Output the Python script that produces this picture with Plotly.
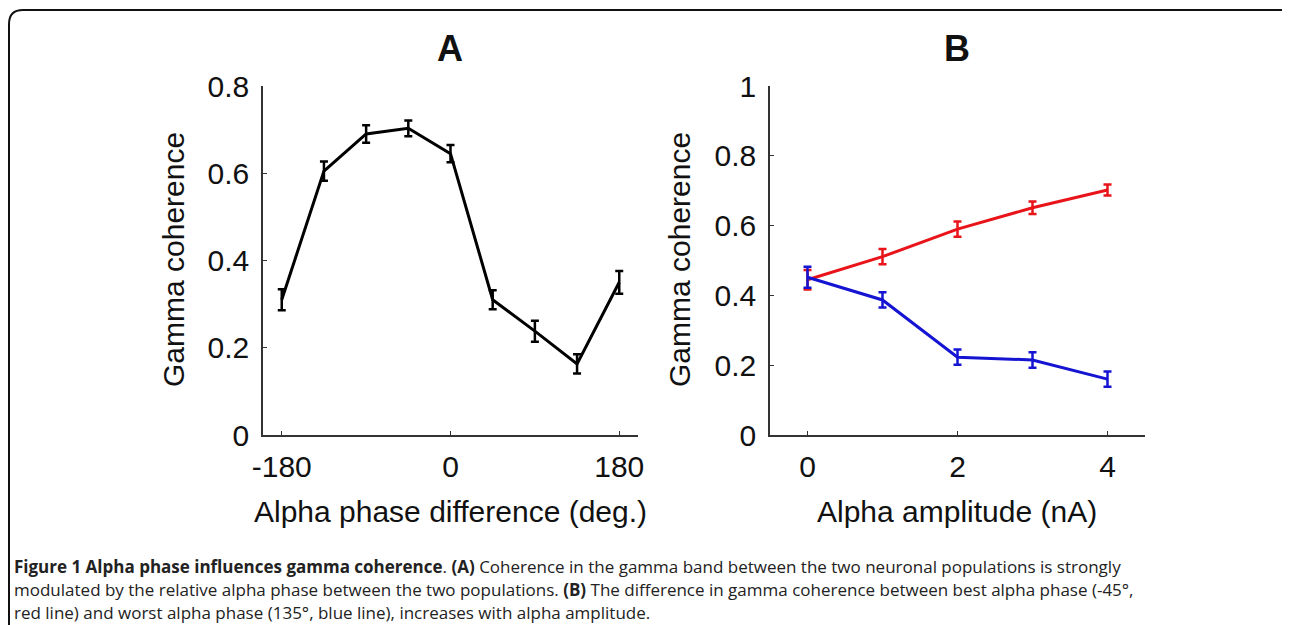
import plotly.graph_objects as go

# ---------------- data ----------------
phase_deg = [-180, -135, -90, -45, 0, 45, 90, 135, 180]
coh_phase = [0.31, 0.605, 0.69, 0.703, 0.645, 0.31, 0.238, 0.163, 0.35]
coh_phase_err = [0.024, 0.022, 0.02, 0.018, 0.02, 0.022, 0.024, 0.022, 0.026]

amp_nA = [0, 1, 2, 3, 4]
coh_best = [0.445, 0.511, 0.59, 0.651, 0.702]
coh_best_err = [0.028, 0.022, 0.022, 0.018, 0.016]
coh_worst = [0.452, 0.387, 0.223, 0.215, 0.16]
coh_worst_err = [0.03, 0.022, 0.022, 0.022, 0.022]

xticks_A = [-180, 0, 180]
xlabels_A = ["-180", "0", "180"]
yticks_A = [0, 0.2, 0.4, 0.6, 0.8]
ylabels_A = ["0", "0.2", "0.4", "0.6", "0.8"]
xticks_B = [0, 2, 4]
xlabels_B = ["0", "2", "4"]
yticks_B = [0, 0.2, 0.4, 0.6, 0.8, 1]
ylabels_B = ["0", "0.2", "0.4", "0.6", "0.8", "1"]

# the page body has an 8px margin: size the figure to fit the window
OFF = 8
W, H = 1290 - OFF, 625 - OFF
FONT = "Liberation Sans, Arial, sans-serif"
CAP_FONT = "Open Sans, Noto Sans, sans-serif"
TXT = "#111111"


def px_x(p):
    return (p - OFF) / W


def px_y(p):
    return 1 - (p - OFF) / H


fig = go.Figure()

fig.add_trace(go.Scatter(
    x=phase_deg, y=coh_phase, mode="lines",
    line=dict(color="black", width=3),
    error_y=dict(type="data", array=coh_phase_err, color="black", thickness=2.5, width=4),
    xaxis="x", yaxis="y", showlegend=False))

fig.add_trace(go.Scatter(
    x=amp_nA, y=coh_best, mode="lines",
    line=dict(color="#e8141a", width=3),
    error_y=dict(type="data", array=coh_best_err, color="#e8141a", thickness=2.5, width=4),
    xaxis="x2", yaxis="y2", showlegend=False))

fig.add_trace(go.Scatter(
    x=amp_nA, y=coh_worst, mode="lines",
    line=dict(color="#1414d2", width=3),
    error_y=dict(type="data", array=coh_worst_err, color="#1414d2", thickness=2.5, width=4),
    xaxis="x2", yaxis="y2", showlegend=False))

axis_common = dict(
    showline=True, linecolor="#333333", linewidth=1.5,
    ticks="inside", ticklen=4, tickwidth=1.2, tickcolor="#333333",
    showgrid=False, zeroline=False, automargin=False,
    tickfont=dict(family=FONT, size=30, color=TXT),
)

ydom = [px_y(435), px_y(86)]

fig.update_layout(
    template="none",
    width=W, height=H,
    margin=dict(l=0, r=0, t=0, b=0, pad=0),
    paper_bgcolor="white", plot_bgcolor="white",
    xaxis=dict(domain=[px_x(263), px_x(638)], range=[-200, 200],
               tickvals=xticks_A, ticktext=xlabels_A, anchor="y",
               ticklabelstandoff=4, **axis_common),
    yaxis=dict(domain=ydom, range=[0, 0.8], tickvals=yticks_A, ticktext=ylabels_A,
               anchor="x", ticklabelstandoff=6, **axis_common),
    xaxis2=dict(domain=[px_x(770), px_x(1145)], range=[-0.5, 4.5],
                tickvals=xticks_B, ticktext=xlabels_B, anchor="y2",
                ticklabelstandoff=4, **axis_common),
    yaxis2=dict(domain=ydom, range=[0, 1], tickvals=yticks_B, ticktext=ylabels_B,
                anchor="x2", ticklabelstandoff=6, **axis_common),
)


def label(text, x, y, size, angle=0):
    return dict(text=text, x=px_x(x), y=px_y(y), xref="paper", yref="paper",
                xanchor="center", yanchor="middle", showarrow=False, textangle=angle,
                font=dict(family=FONT, size=size, color=TXT))


annotations = [
    label("<b>A</b>", 450, 49, 36),
    label("<b>B</b>", 957, 49, 36),
    label("Alpha phase difference (deg.)", 450, 511, 30),
    label("Alpha amplitude (nA)", 957, 511, 30),
    label("Gamma coherence", 174, 260, 30, -90),
    label("Gamma coherence", 680, 260, 30, -90),
]

caption_lines = [
    "<b>Figure 1 Alpha phase influences gamma coherence</b>. <b>(A)</b> Coherence in the gamma band between the two neuronal populations is strongly",
    "modulated by the relative alpha phase between the two populations. <b>(B)</b> The difference in gamma coherence between best alpha phase (-45°,",
    "red line) and worst alpha phase (135°, blue line), increases with alpha amplitude.",
]
for i, line in enumerate(caption_lines):
    annotations.append(dict(text=line, x=px_x(13), y=px_y(566 + 23 * i), xanchor="left",
                            yanchor="middle", xref="paper", yref="paper", showarrow=False,
                            align="left", borderpad=0,
                            font=dict(family=CAP_FONT, size=17, color="#222222")))

fig.update_layout(annotations=annotations)

# rounded frame (open at bottom)
r = 14
path = (f"M {px_x(9)} {px_y(640)} L {px_x(9)} {px_y(10 + r)} "
        f"Q {px_x(9)} {px_y(10)} {px_x(9 + r)} {px_y(10)} "
        f"L {px_x(1280)} {px_y(10)} Q {px_x(1288)} {px_y(10)} {px_x(1289)} {px_y(16)}")
fig.add_shape(type="path", path=path, xref="paper", yref="paper",
              line=dict(color="#111111", width=2))

fig.write_html("out.html")
